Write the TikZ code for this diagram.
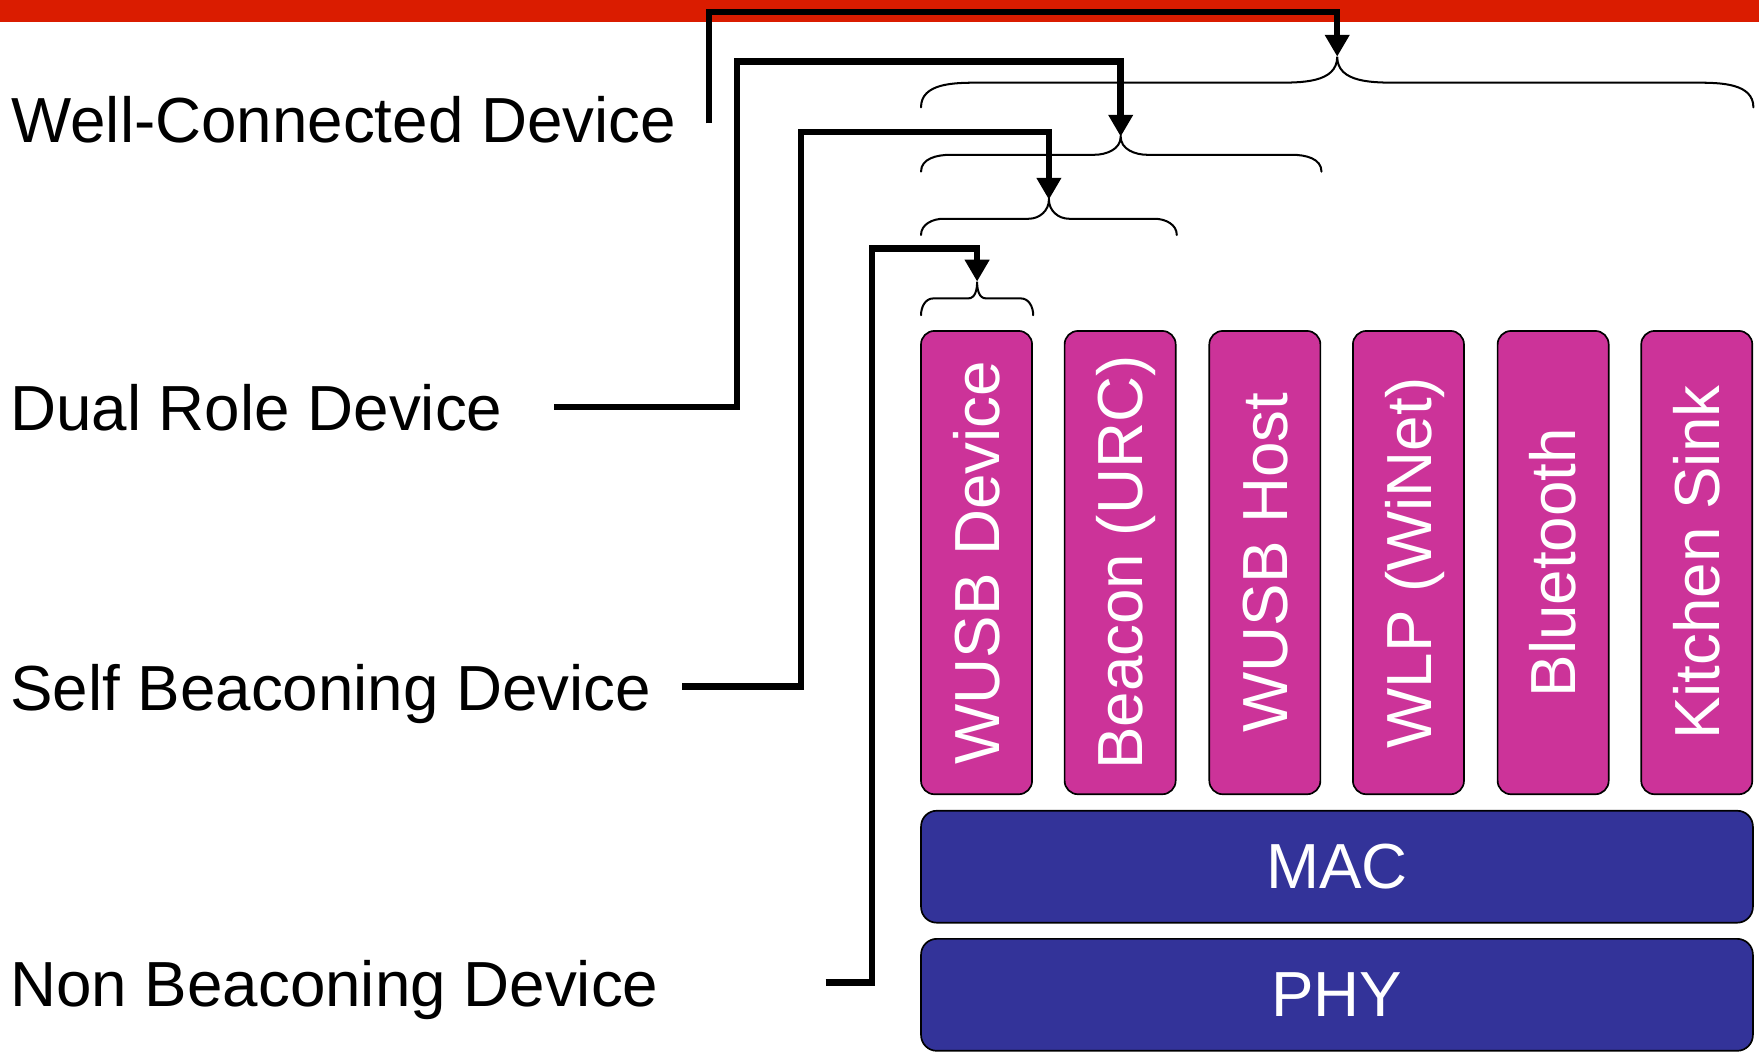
\documentclass[tikz,border=0pt]{standalone}
\usepackage{fontspec}
\setmainfont{Liberation Sans}
\usetikzlibrary{arrows.meta,calc}

\definecolor{barred}{RGB}{218,28,0}
\definecolor{protopink}{RGB}{204,51,153}
\definecolor{layerblue}{RGB}{51,51,153}

% curly brace: #1 left x, #2 right x, #3 tip x, #4 end y, #5 bar y, #6 tip y,
% #7 end curve width, #8 tip curve width
\newcommand{\wbrace}[8]{%
  \draw[bracestyle] (#1,#4) to[out=90,in=180] (#1+#7,#5) -- (#3-#8,#5)
    to[out=0,in=-90] (#3,#6) to[out=-90,in=180] (#3+#8,#5) -- (#2-#7,#5)
    to[out=0,in=90] (#2,#4);%
}

\begin{document}
\begin{tikzpicture}[x=1pt,y=1pt,
  every node/.style={font=\fontsize{56.8}{60}\selectfont},
  devlabel/.style={anchor=base west,inner sep=0pt},
  pinkbox/.style={draw=black,line width=1.5pt,fill=protopink,text=white,
    rounded corners=12pt,rotate=90,minimum width=413pt,minimum height=99pt,
    inner sep=0pt,text height=40.5pt,text depth=0pt},
  bluebox/.style={draw=black,line width=1.5pt,fill=layerblue,text=white,
    rounded corners=14pt,minimum width=741.5pt,minimum height=99.8pt,inner sep=0pt},
  conn/.style={line width=5.8pt,line join=miter,
    -{Triangle[length=19.5pt,width=21pt]}},
  bracestyle/.style={line width=1.8pt,line cap=round}]

\useasboundingbox (0,0) rectangle (1568,-938);

% title bar
\fill[barred] (0,0) rectangle (1568,-19.3);

% protocol columns
\node[pinkbox] (wusbdev) at (870.5,-501.5) {WUSB Device};
\node[pinkbox] (beacon)  at (998.5,-501.5) {Beacon (URC)};
\node[pinkbox] (wusbhost) at (1127.5,-501.5) {WUSB Host};
\node[pinkbox] (wlp)     at (1255.5,-501.5) {WLP (WiNet)};
\node[pinkbox] (bt)      at (1384.5,-501.5) {Bluetooth};
\node[pinkbox] (sink)    at (1512.5,-501.5) {Kitchen Sink};

% shared layers
\node[bluebox] (mac) at (1191.8,-772.6) {MAC};
\node[bluebox] (phy) at (1191.8,-886.8) {PHY};

% device classes
\node[devlabel] (wcd) at (10,-127) {Well-Connected Device};
\node[devlabel] (drd) at (9,-383.5) {Dual Role Device};
\node[devlabel] (sbd) at (9,-633) {Self Beaconing Device};
\node[devlabel] (nbd) at (9,-897) {Non Beaconing Device};

% braces grouping the columns
\wbrace{821}{1563}{1192}{-95.7}{-73.7}{-50.5}{50}{56}
\wbrace{821}{1178}{999}{-153}{-138}{-121.8}{26}{24}
\wbrace{821}{1049}{935}{-209.5}{-195}{-178}{20}{18}
\wbrace{821}{921}{871}{-281}{-266}{-251}{11}{8}

\coordinate (tip1) at (1192,-50.5);
\coordinate (tip2) at (999,-121.8);
\coordinate (tip3) at (935,-178);
\coordinate (tip4) at (871,-251);

% connector start points and bends
\coordinate (s1) at (632,-110);
\coordinate (k1) at (1192,-10.5);
\coordinate (s2) at (494,-363);
\coordinate (c2) at (657,-55);
\coordinate (k2) at (999,-55);
\coordinate (s3) at (608,-612);
\coordinate (c3) at (714,-117.5);
\coordinate (k3) at (935,-117.5);
\coordinate (s4) at (736,-876);
\coordinate (c4) at (777.5,-221.5);
\coordinate (k4) at (871,-221.5);

\draw[conn] (s1) |- (k1) -- (tip1);
\draw[conn] (s2) -| (c2) -- (k2) -- (tip2);
\draw[conn] (s3) -| (c3) -- (k3) -- (tip3);
\draw[conn] (s4) -| (c4) -- (k4) -- (tip4);
\end{tikzpicture}
\end{document}
